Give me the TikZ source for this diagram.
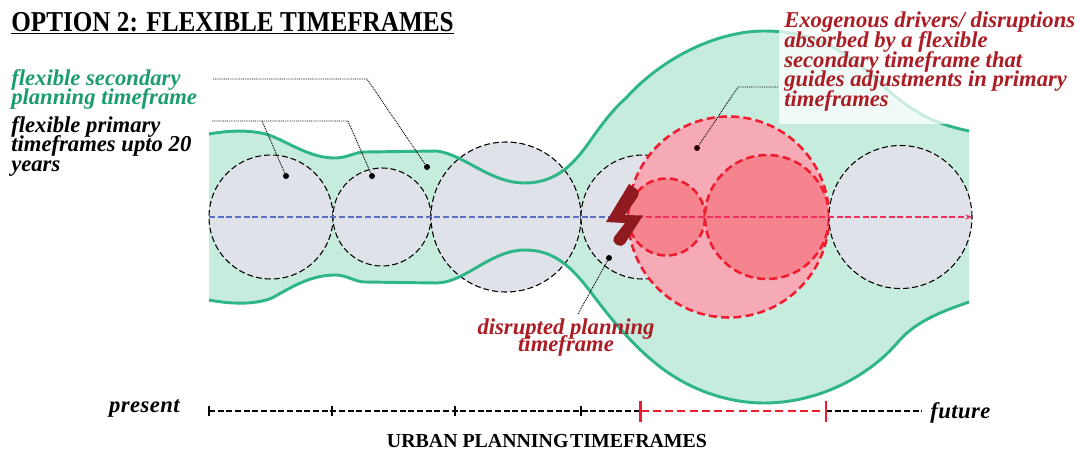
\documentclass[tikz,border=0pt]{standalone}
\usepackage{fontspec}
\setmainfont{Liberation Serif}
\newfontfamily\titlefont[FakeStretch=.875]{Liberation Serif}
\newfontfamily\spacedfont[LetterSpace=2]{Liberation Serif}
\usepackage{tikz}
\usetikzlibrary{arrows.meta,positioning}
\definecolor{greenline}{HTML}{2FB686}
\definecolor{greenfill}{HTML}{C5ECDD}
\definecolor{greentext}{HTML}{1B9C6E}
\definecolor{greyfill}{HTML}{DFE2E8}
\definecolor{redline}{HTML}{EE1C2E}
\definecolor{redtext}{HTML}{AC1C24}
\definecolor{bigfill}{HTML}{F6AAB5}
\definecolor{innerfill}{HTML}{F5848F}
\definecolor{boltred}{HTML}{8F1A1F}
\definecolor{axisblue}{HTML}{5B6FC4}
\definecolor{axisred}{HTML}{F0305A}
\def\upperedge{(209,134) .. controls (225,131) and (250,129) .. (269,135) .. controls (290,143) and (310,158) .. (335,158) .. controls (347,158) and (355,152) .. (365,152) -- (437,151) .. controls (465,155) and (490,183) .. (525,183) .. controls (555,183) and (572,165) .. (585,148) .. controls (598,130) and (610,112) .. (626,98) .. controls (665,55) and (720,31) .. (764,31) .. controls (830,31) and (860,65) .. (890,92) .. controls (915,113) and (935,124) .. (969,131)}
\def\loweredge{(209,300) .. controls (230,304) and (255,305) .. (272,298) .. controls (290,288) and (310,275) .. (335,275) .. controls (347,275) and (355,282) .. (365,282) -- (436,283) .. controls (465,283) and (490,250) .. (525,250) .. controls (555,250) and (572,268) .. (590,291) .. controls (610,318) and (630,342) .. (654,362) .. controls (685,388) and (725,403) .. (764,403) .. controls (820,403) and (870,375) .. (898,342) .. controls (915,322) and (940,312) .. (969,302)}
\newcommand\bandfill[1]{\edef\tmp{\noexpand\fill[greenfill] (209,217) -- #1 -- (969,217) -- cycle;}\tmp}
\newcommand\bandline[1]{\edef\tmp{\noexpand\draw[greenedge] #1;}\tmp}
\begin{document}
\begin{tikzpicture}[
	x=.75pt,y=-.75pt,
	pcircle/.style={
		circle,
		draw=black,
		fill=greyfill,
		dash pattern=on 4.5pt off 2.2pt,
		line width=.8pt,
		outer sep=0pt,
		inner sep=0pt},
	rcircle/.style={
		pcircle,
		draw=redline,
		fill=innerfill,
		dash pattern=on 6pt off 3.2pt,
		line width=1.9pt},
	mylabel/.style={
		inner sep=0pt,
		align=left,
		font=\lineskiplimit-20pt\fontsize{17}{14.7}\selectfont\bfseries\itshape},
	spaced/.style={
		inner sep=0pt,
		font=\fontsize{17}{17}\spacedfont\bfseries\itshape},
	mydot/.style={
		circle,
		fill=black,
		inner sep=0pt,
		minimum size=4.5pt},
	myleader/.style={dash pattern=on .7pt off .7pt,line width=.7pt},
	greenedge/.style={draw=greenline,line width=2.2pt},
	myaxis/.style={dash pattern=on 4.5pt off 2pt,line width=.8pt},
	node distance=0pt
	]
	\useasboundingbox (0,0) rectangle (1080,450);

	% secondary timeframe
	\bandfill{\upperedge}
	\bandfill{\loweredge}

	% primary timeframes
	\node[pcircle,minimum size=93pt] (c1) at (271,217) {};
	\node[pcircle,minimum size=73.5pt,right=of c1] (c2) {};
	\node[pcircle,minimum size=112.5pt,right=of c2] (c3) {};
	\node[pcircle,minimum size=93pt,right=of c3] (c4) {};

	\bandline{\upperedge}
	\bandline{\loweredge}

	% disrupted timeframes
	\node[rcircle,fill=bigfill,preaction={draw=white,solid,line width=.5pt},minimum size=150.75pt] (r1) at (728.5,217) {};
	\node[rcircle,minimum size=57.75pt] (r2) at (666.5,217) {};
	\node[rcircle,minimum size=93pt,right=of r2] (r3) {};
	\node[pcircle,minimum size=107.25pt,right=of r3] (c5) {};

	% axis through the circles
	\coordinate (b0) at (620,217);
	\draw[myaxis,axisblue] (c1.west) -- (b0);
	\draw[myaxis,axisred,-{Stealth[length=5pt,width=4pt]}] (b0) -- (c5.east);

	% lightning
	\fill[boltred,rounded corners=4pt] (629,184) -- (641,192) [sharp corners] -- (625,215) -- (643,215.5) [rounded corners=4pt] -- (622,248) -- (611,241) [sharp corners] -- (625,223) -- (606,222) -- cycle;

	% panel behind the red text
	\fill[white,fill opacity=.75] (779,20) rectangle (1080,124);

	% leaders
	\node[mydot] (d1) at (427,167) {};
	\node[mydot] (d2) at (372,176) {};
	\node[mydot] (d3) at (286,176) {};
	\node[mydot,fill=black!80!red] (d4) at (697,148) {};
	\node[mydot] (d5) at (609,258) {};
	\coordinate (l1) at (213,79);
	\coordinate (l2) at (367,79);
	\coordinate (l3) at (212,121);
	\coordinate (l4) at (348,121);
	\coordinate (l5) at (262,121);
	\coordinate (l6) at (778,87);
	\coordinate (l7) at (738,87);
	\coordinate (l8) at (578,314);
	\draw[myleader] (l1) -- (l2) -- (d1);
	\draw[myleader] (l3) -- (l4) -- (d2);
	\draw[myleader] (l5) -- (d3);
	\draw[myleader] (l6) -- (l7) -- (d4);
	\draw[myleader] (l8) -- (d5);

	% texts
	\node[inner sep=0pt,anchor=base west,font=\fontsize{21.6}{22}\titlefont\bfseries] (title) at (11,31.5) {OPTION 2: FLEXIBLE TIMEFRAMES};
	\draw[line width=1pt] ([yshift=-1.5pt]title.base west) -- ([yshift=-1.5pt]title.base east);
	\node[mylabel,text=greentext,anchor=north west] (t1) at (11,69) {flexible secondary\\planning timeframe};
	\node[mylabel,anchor=north west] (t2) at (11,116) {flexible primary\\timeframes upto 20\\years};
	\node[mylabel,text=redtext,anchor=north west] (t3) at (784,12) {Exogenous drivers/ disruptions\\absorbed by a flexible\\secondary timeframe that\\guides adjustments in primary\\timeframes};
	\node[mylabel,font=\lineskiplimit-20pt\fontsize{17}{12.8}\selectfont\bfseries\itshape,text=redtext,align=center,anchor=north] (t4) at (566,318) {disrupted planning\\timeframe};

	% time line
	\foreach \n/\x in {m1/209,m2/332,m3/455,m4/581,m5/640.5,m6/826,m7/922}
		\coordinate (\n) at (\x,411);
	\draw[myaxis] (m1) -- (m5);
	\draw[myaxis] (m6) -- (m7);
	\draw[draw=redline,dash pattern=on 6pt off 3.2pt,line width=2pt] (m5) -- (m6);
	\foreach \i in {m1,m2,m3,m4}
		\draw[line width=.8pt] (\i) ++(0,-5) -- ++(0,10);
	\foreach \i in {m5,m6}
		\draw[draw=redline,line width=2pt] (\i) ++(0,-10.5) -- ++(0,21);
	\node[spaced,anchor=base east] (t5) at (180,412) {present};
	\node[spaced,anchor=base west] (t6) at (930,418) {future};
	\node[inner sep=0pt,font=\fontsize{14.9}{16}\selectfont\bfseries] (t7) at (547,441) {URBAN PLANNING\kern-2.5pt\ TIMEFRAMES};
\end{tikzpicture}
\end{document}
